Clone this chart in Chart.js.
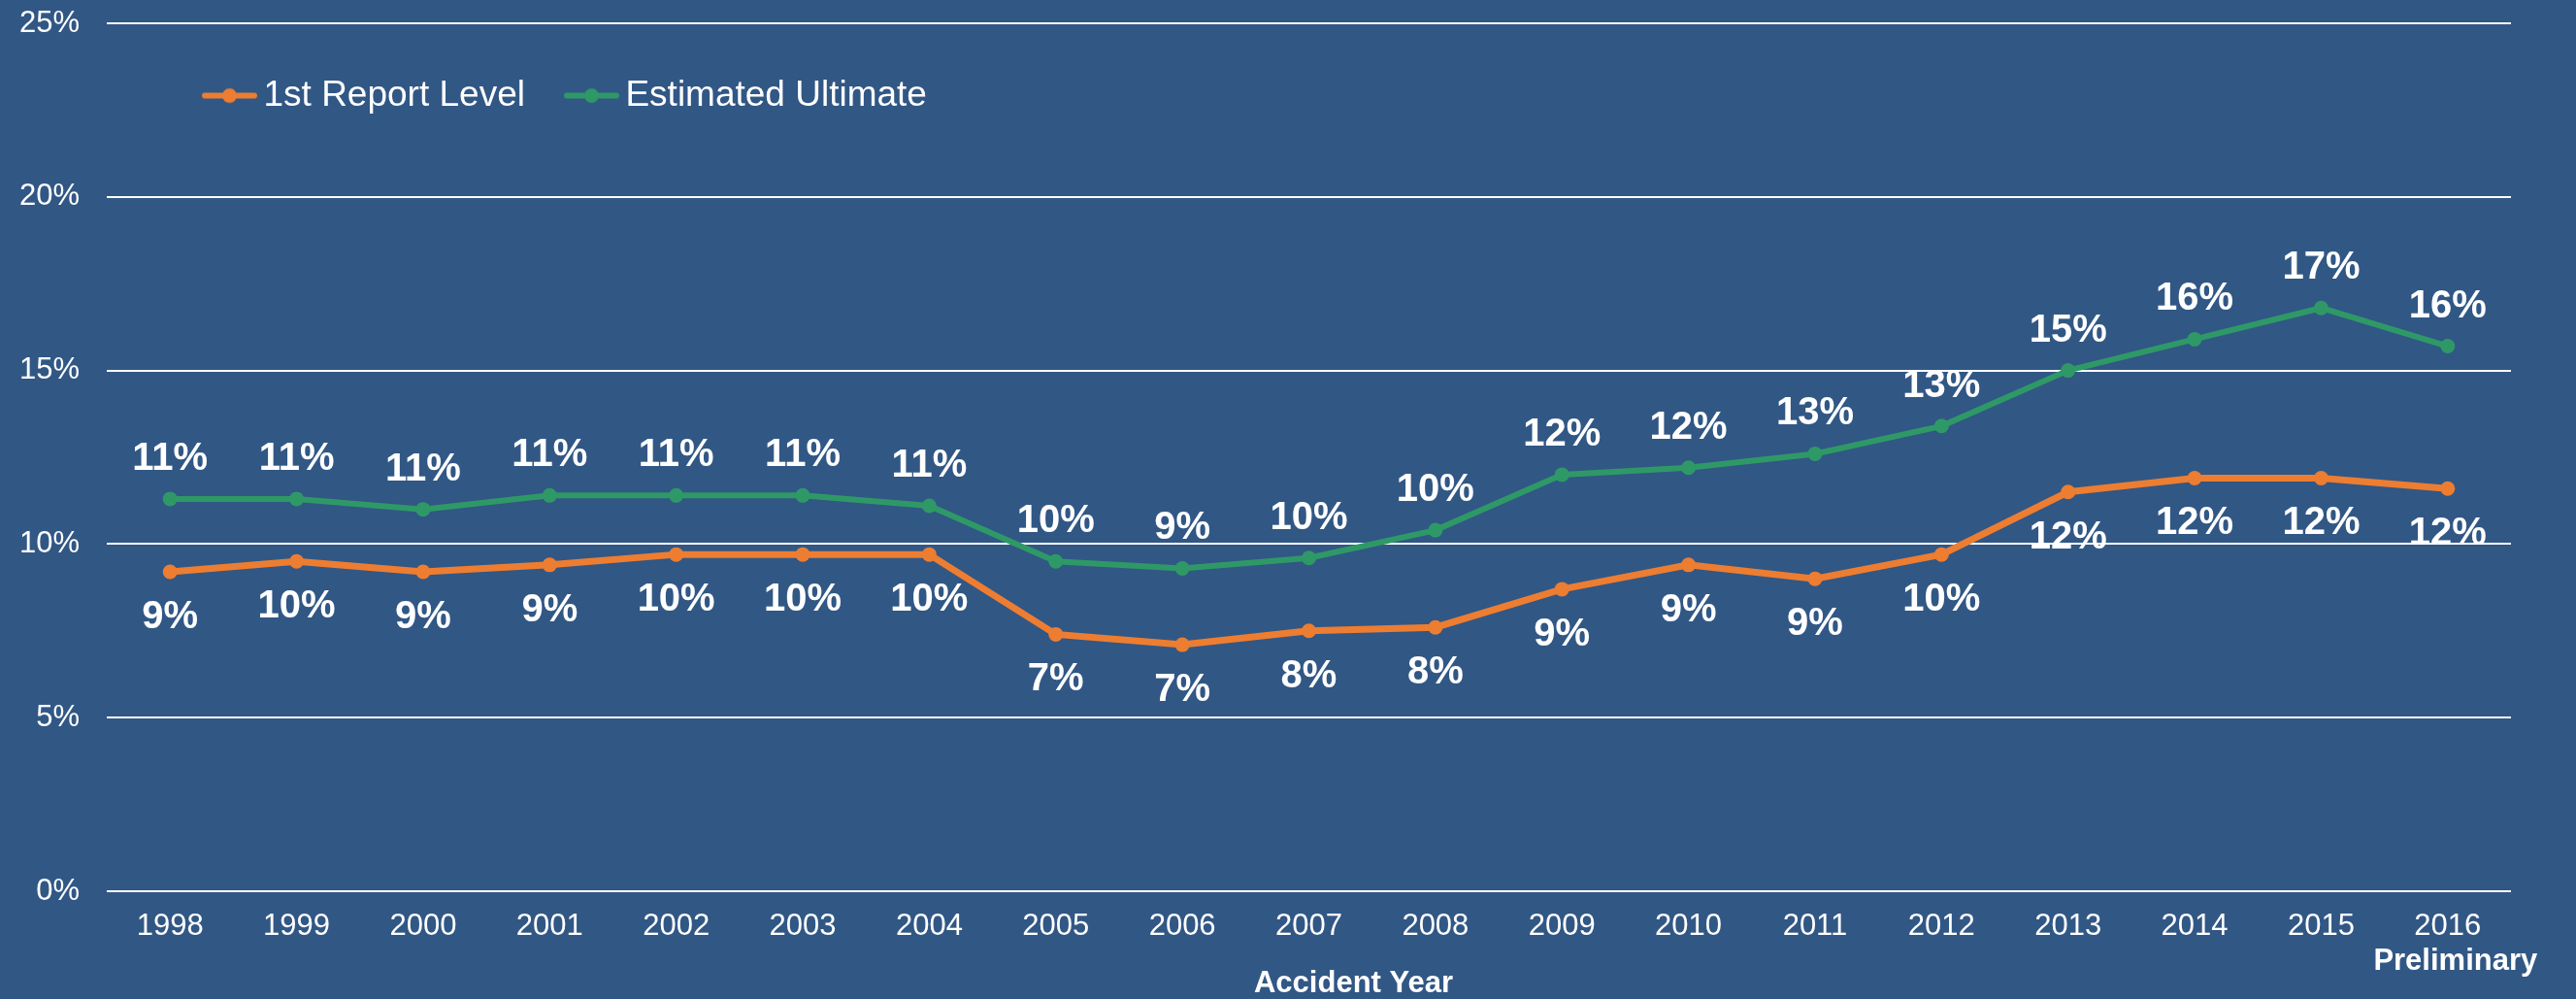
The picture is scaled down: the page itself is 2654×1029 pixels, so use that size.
<!DOCTYPE html>
<html>
<head>
<meta charset="utf-8">
<script src="https://cdn.jsdelivr.net/npm/chart.js@4/dist/chart.umd.min.js"></script>
<style>
  html, body { margin: 0; padding: 0; background: #315785; }
  canvas { display: block; }
</style>
</head>
<body>
<canvas id="loss-chart" width="2654" height="1029"></canvas>
<script>
  var years = ['1998', '1999', '2000', '2001', '2002', '2003', '2004', '2005', '2006', '2007',
               '2008', '2009', '2010', '2011', '2012', '2013', '2014', '2015', '2016'];
  var firstReport = [9.2, 9.5, 9.2, 9.4, 9.7, 9.7, 9.7, 7.4, 7.1, 7.5,
                     7.6, 8.7, 9.4, 9.0, 9.7, 11.5, 11.9, 11.9, 11.6];
  var estUltimate = [11.3, 11.3, 11.0, 11.4, 11.4, 11.4, 11.1, 9.5, 9.3, 9.6,
                     10.4, 12.0, 12.2, 12.6, 13.4, 15.0, 15.9, 16.8, 15.7];
  var yTicks = [0, 5, 10, 15, 20, 25];

  var orange = '#ED7D31';
  var green = '#2E9966';
  var bg = '#315785';
  var font = "'Liberation Sans', Arial, sans-serif";

  Chart.defaults.font.family = font;
  Chart.defaults.color = '#ffffff';

  // legend symbol: short line with a dot, drawn into a small canvas
  var legendIcon = function (color) {
    var c = document.createElement('canvas');
    c.width = 80;
    c.height = 20;
    var g = c.getContext('2d');
    g.strokeStyle = color;
    g.lineWidth = 6;
    g.lineCap = 'round';
    g.beginPath();
    g.moveTo(26, 10);
    g.lineTo(77, 10);
    g.stroke();
    g.fillStyle = color;
    g.beginPath();
    g.arc(51.5, 10, 7.5, 0, Math.PI * 2);
    g.fill();
    return c;
  };
  var icons = [legendIcon(orange), legendIcon(green)];

  var extras = {
    id: 'extras',
    afterInit: function (chart) {
      // keep the legend out of the layout, it sits inside the plot area
      var legend = chart.legend;
      var fit = legend.fit;
      legend.fit = function () {
        fit.call(this);
        this.height = 0;
      };
    },
    afterLayout: function (chart) {
      var legend = chart.legend;
      legend.left = 168;
      legend.top = 51;
      legend.width = 1200;
      legend.height = 120;
      legend.right = legend.left + legend.width;
      legend.bottom = legend.top + legend.height;
    },
    beforeDraw: function (chart) {
      var ctx = chart.ctx;
      ctx.save();
      ctx.fillStyle = bg;
      ctx.fillRect(0, 0, chart.width, chart.height);
      ctx.restore();
    },
    afterDatasetsDraw: function (chart) {
      var ctx = chart.ctx;
      ctx.save();
      ctx.font = 'bold 40px ' + font;
      ctx.fillStyle = '#ffffff';
      ctx.textAlign = 'center';
      ctx.textBaseline = 'middle';
      chart.data.datasets.forEach(function (ds, i) {
        var offset = i === 0 ? 47 : -41;
        chart.getDatasetMeta(i).data.forEach(function (pt, j) {
          ctx.fillText(Math.round(ds.data[j]) + '%', pt.x, pt.y + offset);
        });
      });
      ctx.restore();
    },
    afterDraw: function (chart) {
      var ctx = chart.ctx;
      var area = chart.chartArea;
      var x = chart.scales.x;
      ctx.save();
      ctx.font = 'bold 31px ' + font;
      ctx.fillStyle = '#ffffff';
      ctx.textAlign = 'center';
      ctx.textBaseline = 'middle';
      ctx.fillText('Preliminary', x.getPixelForValue(years.length - 1) + 8, area.bottom + 72);
      ctx.fillText('Accident Year', (area.left + area.right) / 2 + 46, area.bottom + 95);
      ctx.restore();
    }
  };

  var config = {
    type: 'line',
    data: {
      labels: years,
      datasets: [{
        label: '1st Report Level',
        data: firstReport,
        borderColor: orange,
        backgroundColor: orange,
        borderWidth: 7,
        pointRadius: 7.5,
        pointBorderWidth: 0,
        tension: 0
      }, {
        label: 'Estimated Ultimate',
        data: estUltimate,
        borderColor: green,
        backgroundColor: green,
        borderWidth: 6,
        pointRadius: 7.5,
        pointBorderWidth: 0,
        tension: 0
      }]
    },
    options: {
      responsive: false,
      animation: false,
      layout: {
        padding: { left: 0, right: 67, top: 24, bottom: 0 }
      },
      scales: {
        x: {
          offset: true,
          grid: { display: false, drawTicks: false },
          border: { display: false },
          ticks: {
            padding: 18,
            maxRotation: 0,
            autoSkip: false,
            font: { size: 31 },
            color: '#ffffff'
          },
          afterFit: function (scale) {
            scale.height = 111;
          }
        },
        y: {
          min: 0,
          max: 25,
          grid: { color: '#ffffff', lineWidth: 2, drawTicks: false },
          border: { display: false },
          afterBuildTicks: function (scale) {
            scale.ticks = yTicks.map(function (v) { return { value: v }; });
          },
          ticks: {
            padding: 28,
            font: { size: 31 },
            color: '#ffffff',
            callback: function (v) { return v + '%'; }
          },
          afterFit: function (scale) {
            scale.width = 110;
            scale.paddingTop = 0;
            scale.paddingBottom = 0;
          }
        }
      },
      plugins: {
        tooltip: { enabled: false },
        legend: {
          display: true,
          position: 'top',
          align: 'start',
          labels: {
            usePointStyle: true,
            pointStyleWidth: 56,
            padding: 29,
            color: '#ffffff',
            font: { size: 37 },
            generateLabels: function (chart) {
              var items = Chart.defaults.plugins.legend.labels.generateLabels(chart);
              items.forEach(function (item, i) {
                item.pointStyle = icons[i];
                item.fontColor = '#ffffff';
              });
              return items;
            }
          }
        }
      }
    },
    plugins: [extras]
  };

  window.onload = function () {
    var ctx = document.getElementById('loss-chart').getContext('2d');
    window.lossChart = new Chart(ctx, config);
  };
</script>
</body>
</html>
